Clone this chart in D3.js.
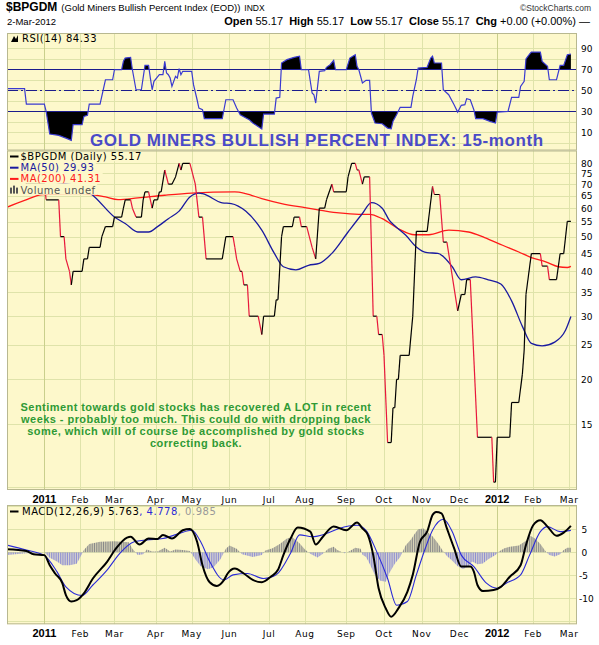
<!DOCTYPE html>
<html><head><meta charset="utf-8">
<script src="https://cdn.jsdelivr.net/npm/d3@7"></script>
<style>body{margin:0;background:#fff}svg{display:block}</style>
</head><body>
<script>
// ---------------- DATA ----------------
const firstDay = "2010-12-02", lastDay = "2012-03-02";
const holidays = ["2010-12-24","2011-01-17","2011-02-21","2011-04-22","2011-05-30","2011-07-04",
  "2011-09-05","2011-11-24","2011-12-26","2012-01-02","2012-01-16","2012-02-20"];
// session = trading-day number, 0 = 2 Dec 2010, 314 = 2 Mar 2012
const bpiSession = [0,10,11,21,22,29,30,32,33,35,36,37,42,43,45,46,52,53,55,59,60,64,65,66,69,70,72,75,76,77,79,81,82,84,85,86,88,90,92,94,96,97,98,102,105,107,109,111,120,122,126,127,128,130,131,132,134,135,140,142,143,149,150,151,153,154,159,160,163,164,167,170,172,174,177,178,181,182,189,190,192,194,195,196,198,199,202,204,206,207,209,210,212,214,215,216,217,218,219,224,226,228,234,237,238,241,243,245,251,253,255,256,258,262,270,271,272,273,280,281,285,287,288,289,292,297,298,301,302,306,308,310,312,314];
const bpiValue = [76.67,76.67,70,70,63.33,63.33,50,50,43.33,40,36.67,40,40,43.33,43.33,46.67,46.67,50,53.33,53.33,56.67,56.67,60,63.33,63.33,60,56.67,56.67,63.33,66.67,66.67,60,63.33,63.33,66.67,66.67,76.67,70,70,73.33,80,76.67,80,80,70,56.67,56.67,43.33,43.33,50,50,46.67,43.33,40,40,36.67,36.67,30,30,26.67,30,30,33.33,33.33,50,53.33,53.33,56.67,56.67,53.33,53.33,46.67,43.33,60,60,63.33,70,66.67,66.67,73.33,80,80,76.67,76.67,70,73.33,73.33,30,30,26.67,26.67,23.33,13.33,13.33,16.67,16.67,20,20,23.33,23.33,30,51.72,51.72,68.97,65.52,65.52,48.28,48.28,31.03,34.48,34.48,37.93,37.93,13.79,13.79,10.34,10.34,13.79,13.79,17.24,17.24,20.69,24.14,34.48,44.83,44.83,41.38,41.38,37.93,37.93,44.83,44.83,55.17,55.17];

const ma50Session = [0,21,42,49,60,66,73,79,84,90,96,102,107,109,120,125,133,142,149,154,161,168,174,181,190,198,203,209,213,216,222,228,234,240,248,253,261,268,275,281,287,292,298,305,311,314];
const ma50Value = [74,71.5,68.7,64.5,56.7,54.4,51.5,51.5,53.3,56.1,58.9,64.5,66.1,65.9,62.1,61.8,58.9,52.1,44.9,41.2,40.4,41.6,42.1,44.9,51.5,58.0,62.2,60.0,55.5,53.6,50.5,46.8,45.1,44.9,41.2,37.9,38.6,37.9,36.9,33.1,28.1,25.2,24.8,25.4,27.4,29.93];

const ma200Session = [0,10,20,42,55,62,73,88,103,127,133,142,153,166,175,185,196,202,209,218,227,235,246,257,266,276,285,292,300,307,312,314];
const ma200Value = [60.3,63.1,65.5,65.9,64.5,63.4,64.1,65.2,66.1,66.6,65.9,63.8,61.8,60.2,59.2,58.2,57.7,57.7,56.1,52.6,50.6,50.6,52.1,51.5,49.7,47.3,45.3,43.7,42.5,41.2,41.0,41.31];

const rsiSession = [0,10,11,21,22,24,29,33,36,37,42,43,45,46,52,55,59,60,64,65,66,69,70,72,75,77,79,80,81,82,85,87,88,89,90,91,92,94,95,96,97,98,103,104,106,107,109,110,120,122,126,128,130,135,137,142,143,149,150,152,153,156,160,163,164,168,170,171,172,174,177,178,180,182,183,189,191,194,195,196,198,200,202,203,205,209,212,214,215,217,219,225,226,228,229,234,236,237,238,242,243,246,249,251,253,255,256,258,260,261,265,269,272,273,279,281,285,286,288,289,291,292,297,298,301,302,306,308,310,312,314];
const rsiValue = [51.5,51.5,36.9,36.9,30,8.4,7.2,4.6,2.4,17.3,17.3,25.2,26.2,36.9,36.9,60,60,69.5,69.5,77.5,80.6,81.3,69.5,50.5,50.5,73.7,73.7,61.6,50.5,58.5,64.8,64.8,77.5,66.4,64.8,61.6,53.7,63.3,61.6,70.5,64.8,68,68,55.3,41,33.1,31.5,23,23,41,41,33.1,26.8,22.1,18.9,13.2,27.4,27.4,42.6,43.3,75.9,79.1,81.3,82.3,69.5,69.5,47.4,45.8,37.9,68,68.6,71.8,74.3,78.5,69.5,69.5,80.6,83.8,72.8,69.5,56.9,59.4,59.4,28.4,18.9,18.2,14.1,13.5,20.5,26.8,33.8,33.8,44.2,60,71.1,71.8,80.6,82.3,75.9,75.9,50.5,45.8,36.3,29.3,35.7,36.3,42,41,31.5,23,23,20.5,18.9,29.3,30,43.3,43.3,53.7,58.5,79.7,84.4,86.3,86.3,77.5,72.8,60,60,73.7,73.7,83.8,84.33];

const macdSession = [0,11,15,21,24,27,31,33,36,39,43,48,56,61,67,69,74,79,84,87,92,98,102,106,109,113,117,121,123,127,132,137,142,147,151,154,158,162,169,172,176,182,189,195,198,201,204,207,211,214,218,223,226,230,234,237,239,242,245,249,253,258,260,262,265,271,275,280,286,289,293,297,301,306,310,314];
const macdValue = [0.7,0.3,-0.4,-0.6,-2.8,-4.6,-6.7,-9.3,-10.7,-10.4,-8.9,-5.7,-2.0,0.9,3.2,3.4,1.7,3.0,2.9,3.8,3.0,4.8,5.1,2.3,-2.8,-6.5,-7.3,-6.0,-4.6,-3.5,-4.6,-6.0,-6.5,-5.3,-3.8,-0.6,3.0,5.4,4.5,1.7,3.4,5.6,4.8,6.5,5.2,3.8,-0.6,-7.8,-12.2,-14.0,-12.2,-8.6,-4.9,2.3,4.5,8.1,8.8,8.5,5.2,0.9,-3.1,-3.1,-4.2,-7.1,-8.4,-8.2,-7.5,-5.3,-2.8,1.6,5.9,7.0,5.6,3.6,4.3,5.763];
const signalSession = [0,11,21,28,33,42,48,56,63,71,78,87,96,103,108,113,121,126,134,143,150,158,163,170,178,185,195,200,206,212,217,223,228,233,237,243,248,253,260,267,273,278,286,291,297,301,308,314];
const signalValue = [1.6,0.5,-0.7,-4.2,-7.5,-9.4,-7.1,-3.8,-0.2,2.3,2.7,3.0,4.1,4.8,2.3,-2.0,-6.0,-4.9,-4.6,-5.7,-4.9,-0.2,3.8,3.4,4.1,5.2,5.9,4.8,0.1,-5.7,-11.5,-10.7,-4.9,0.9,4.8,7.2,4.5,-0.6,-3.1,-6.7,-7.8,-6.7,-4.9,-0.6,4.5,5.6,4.5,4.778];
const histSession = [0,11,21,24,28,31,35,39,42,43,46,52,60,68,70,73,76,78,81,84,88,91,94,98,102,105,108,112,115,119,122,124,128,131,137,142,144,148,152,156,159,163,166,169,173,176,179,182,184,188,191,194,197,198,200,202,205,208,211,213,216,219,222,225,227,229,232,234,237,240,243,245,248,251,254,257,259,262,265,268,272,274,277,280,285,289,291,294,297,300,302,305,308,310,312,314];
const histValue = [-0.6,-0.2,0,-1.2,-2.0,-2.8,-2.8,-2.5,-0.3,0.5,1.8,2.3,2.4,2.2,0.8,-0.6,-0.4,0.6,0.2,0.2,1.0,0.2,0.6,0.5,0.3,-1.5,-3.0,-3.7,-3.3,-1.5,0.8,1.5,0.8,-0.4,-1.0,-0.6,0.4,0.9,1.8,3.0,3.3,2.0,0.6,-0.3,-1.1,-0.3,0.8,1.2,0.5,-0.2,0.3,1.0,0.8,-0.5,-1.0,-2.5,-5.0,-6.2,-6.4,-4.5,-2.5,-1.0,1.5,2.8,4.0,5.0,5.2,4.5,3.5,2.0,0.2,-0.8,-1.8,-3.0,-3.6,-3.0,-2.0,-2.6,-2.4,-1.5,-0.6,0.2,0.9,1.2,1.5,2.5,3.7,3.0,1.8,0.2,-0.6,-0.9,-0.4,0.5,1.0,0.985];

const priceTicks = [15,20,25,30,35,40,45,50,55,60,65,70,75,80];
const priceGrid = [10,15,20,25,30,35,40,45,50,55,60,65,70,75,80];
const rsiTicks = [10,30,50,70,90];
const rsiGrid = [0,10,20,30,40,50,60,70,80,90];
const macdTicks = [-10,-5,0,5];
const annotation = ["Sentiment towards gold stocks has recovered A LOT in recent",
  "weeks - probably too much. This could do with dropping back",
  "some, which will of course be accomplished by gold stocks",
  "correcting back."];

// ---------------- LAYOUT ----------------
const W = 599, H = 645;
const PX0 = 7, PX1 = 577;
const R = {top: 33, bot: 150.5}, M = {top: 150.5, bot: 490}, Q = {top: 505, bot: 624.3};
const BG = "#fdf8cb", GRID = "#dfe3aa", YEARGRID = "#c9cf8c", BORDER = "#b8b890";
const AX = "'DejaVu Sans', Verdana, sans-serif", AR = "'Liberation Sans', Arial, sans-serif";

const parse = d3.utcParse("%Y-%m-%d"), fmt = d3.utcFormat("%Y-%m-%d");
const hol = new Set(holidays);
const days = d3.utcDays(parse(firstDay), d3.utcDay.offset(parse(lastDay), 1))
  .filter(d => d.getUTCDay() % 6 !== 0 && !hol.has(fmt(d)));
const monthStarts = [];
days.forEach((d, i) => { if (i > 0 && d.getUTCMonth() !== days[i-1].getUTCMonth()) monthStarts.push(i); });

const x = d3.scaleLinear().domain([0, days.length - 1]).range([6.6, 570.9]);
const yM = d3.scaleLog().domain([9.83, 86.9]).range([M.bot, M.top]);
const yR = d3.scaleLinear().domain([-7.2, 104.4]).range([R.bot, R.top]);
const yQ = d3.scaleLinear().domain([-15.65, 10.3]).range([Q.bot, Q.top]);

const svg = d3.select("body").append("svg").attr("width", W).attr("height", H);
svg.append("rect").attr("width", W).attr("height", H).attr("fill", "#fff");
const defs = svg.append("defs");
function clip(id, p) {
  defs.append("clipPath").attr("id", id).append("rect")
    .attr("x", PX0).attr("y", p.top).attr("width", PX1 - PX0).attr("height", p.bot - p.top);
}
clip("cR", R); clip("cM", M); clip("cQ", Q);

function panel(p, id, gridVals, yS) {
  svg.append("rect").attr("x", PX0).attr("y", p.top).attr("width", PX1 - PX0).attr("height", p.bot - p.top)
    .attr("fill", BG);
  const g = svg.append("g").attr("clip-path", `url(#${id})`);
  g.selectAll(null).data(gridVals).join("line")
    .attr("x1", PX0).attr("x2", PX1).attr("y1", d => Math.round(yS(d)) + 0.5).attr("y2", d => Math.round(yS(d)) + 0.5)
    .attr("stroke", GRID).attr("stroke-width", 1);
  g.selectAll(null).data(monthStarts).join("line")
    .attr("x1", d => Math.round(x(d)) + 0.5).attr("x2", d => Math.round(x(d)) + 0.5)
    .attr("y1", p.top).attr("y2", p.bot)
    .attr("stroke", d => days[d].getUTCMonth() === 0 ? YEARGRID : GRID).attr("stroke-width", 1);
  return g;
}
const gR = panel(R, "cR", rsiGrid, yR);
const gM = panel(M, "cM", priceGrid, yM);
const gQ = panel(Q, "cQ", d3.range(-15, 11, 5), yQ);

// ---------------- RSI ----------------
const rsiPts = rsiSession.map((s, i) => [x(s), yR(rsiValue[i])]);
defs.append("clipPath").attr("id", "cHi").append("rect").attr("x", PX0).attr("y", R.top).attr("width", PX1 - PX0).attr("height", yR(70) - R.top);
defs.append("clipPath").attr("id", "cLo").append("rect").attr("x", PX0).attr("y", yR(30)).attr("width", PX1 - PX0).attr("height", R.bot - yR(30));
gR.append("g").attr("clip-path", "url(#cHi)").append("path")
  .attr("d", d3.area().x(d => d[0]).y0(yR(70)).y1(d => d[1])(rsiPts)).attr("fill", "#000");
gR.append("g").attr("clip-path", "url(#cLo)").append("path")
  .attr("d", d3.area().x(d => d[0]).y0(yR(30)).y1(d => d[1])(rsiPts)).attr("fill", "#000");
[70, 30].forEach(v => gR.append("line").attr("x1", PX0).attr("x2", PX1)
  .attr("y1", Math.round(yR(v)) + 0.5).attr("y2", Math.round(yR(v)) + 0.5).attr("stroke", "#1c1c8c").attr("stroke-width", 1.2));
gR.append("line").attr("x1", PX0).attr("x2", PX1).attr("y1", Math.round(yR(50)) + 0.5).attr("y2", Math.round(yR(50)) + 0.5)
  .attr("stroke", "#1c1c8c").attr("stroke-width", 1.2).attr("stroke-dasharray", "11,3,2,3");
gR.append("path").attr("d", d3.line()(rsiPts)).attr("fill", "none").attr("stroke", "#3a3ad0").attr("stroke-width", 1.2);

svg.append("text").attr("x", 90).attr("y", 145.5).attr("font-family", AR).attr("font-weight", "bold")
  .attr("font-size", 17).attr("letter-spacing", 0.6).attr("fill", "#4a4ac8").text("GOLD MINERS BULLISH PERCENT INDEX: 15-month");

// ---------------- MAIN ----------------
gM.append("path").attr("d", d3.line().curve(d3.curveMonotoneX)(ma200Session.map((s, i) => [x(s), yM(ma200Value[i])])))
  .attr("fill", "none").attr("stroke", "#ff1a1a").attr("stroke-width", 1.3);
gM.append("path").attr("d", d3.line().curve(d3.curveMonotoneX)(ma50Session.map((s, i) => [x(s), yM(ma50Value[i])])))
  .attr("fill", "none").attr("stroke", "#1a1aa0").attr("stroke-width", 1.3);
const segs = d3.pairs(bpiSession.map((s, i) => [x(s), yM(bpiValue[i]), bpiValue[i]]));
gM.selectAll(null).data(segs).join("path")
  .attr("d", d => d3.line()([[d[0][0], d[0][1]], [d[1][0], d[1][1]]]))
  .attr("stroke", d => d[1][2] < d[0][2] ? "#e8183c" : "#000").attr("stroke-width", 1.2).attr("fill", "none");

const ann = svg.append("text").attr("font-family", AR).attr("font-weight", "bold").attr("font-size", 11)
  .attr("letter-spacing", 0.45).attr("fill", "#2f9a35").attr("text-anchor", "middle");
annotation.forEach((t, i) => ann.append("tspan").attr("x", 196).attr("y", 410.5 + i * 12).text(t));

const leg = svg.append("g").attr("font-family", AX).attr("font-size", 10);
const legRows = [
  {t: "$BPGDM (Daily) 55.17", c: "#000", k: "line"},
  {t: "MA(50) 29.93", c: "#1a1aa0", k: "line"},
  {t: "MA(200) 41.31", c: "#ff1a1a", k: "line"},
  {t: "Volume undef", c: "#555", k: "vol"}];
legRows.forEach((r, i) => {
  const yb = 160 + i * 11.2;
  const bg = leg.append("rect").attr("fill", BG);
  const tx = leg.append("text").attr("x", 20.5).attr("y", yb).attr("fill", r.c).attr("letter-spacing", 0.5).text(r.t);
  const bb = tx.node().getBBox();
  bg.attr("x", PX0 + 0.5).attr("y", yb - 10).attr("width", bb.x + bb.width - PX0 + 1).attr("height", 11.2);
  if (r.k === "line") leg.append("line").attr("x1", 10).attr("x2", 18.5).attr("y1", yb - 3.5).attr("y2", yb - 3.5)
    .attr("stroke", r.c).attr("stroke-width", 2);
  else [0, 1, 2].forEach(j => leg.append("rect").attr("x", 10 + j * 3).attr("y", yb - 7 + (j === 1 ? -1 : 1)).attr("width", 2)
    .attr("height", 7 - (j === 1 ? -1 : 1)).attr("fill", "#555"));
});

// ---------------- MACD ----------------
[["hpP", "#8a8a8a"], ["hpN", "#8f8fd2"]].forEach(([id, c]) => defs.append("pattern").attr("id", id)
  .attr("patternUnits", "userSpaceOnUse").attr("x", x(0) - 0.6).attr("width", x(1) - x(0)).attr("height", 8)
  .append("rect").attr("width", 1.2).attr("height", 8).attr("fill", c));
defs.append("clipPath").attr("id", "cPos").append("rect").attr("x", PX0).attr("y", Q.top).attr("width", PX1 - PX0).attr("height", yQ(0) - Q.top);
defs.append("clipPath").attr("id", "cNeg").append("rect").attr("x", PX0).attr("y", yQ(0)).attr("width", PX1 - PX0).attr("height", Q.bot - yQ(0));
const histPath = d3.area().x(d => d[0]).y0(yQ(0)).y1(d => d[1])(histSession.map((s, i) => [x(s), yQ(histValue[i])]));
gQ.append("g").attr("clip-path", "url(#cPos)").append("path").attr("d", histPath).attr("fill", "url(#hpP)");
gQ.append("g").attr("clip-path", "url(#cNeg)").append("path").attr("d", histPath).attr("fill", "url(#hpN)");
gQ.append("path").attr("d", d3.line().curve(d3.curveMonotoneX)(signalSession.map((s, i) => [x(s), yQ(signalValue[i])])))
  .attr("fill", "none").attr("stroke", "#2a2ad8").attr("stroke-width", 1.1);
gQ.append("path").attr("d", d3.line().curve(d3.curveMonotoneX)(macdSession.map((s, i) => [x(s), yQ(macdValue[i])])))
  .attr("fill", "none").attr("stroke", "#000").attr("stroke-width", 2);

[R, M, Q].forEach(p => svg.append("rect").attr("x", PX0 + 0.5).attr("y", p.top + 0.5).attr("width", PX1 - PX0 - 1)
  .attr("height", p.bot - p.top - 1).attr("fill", "none").attr("stroke", BORDER));

const rl = svg.append("g").attr("font-family", AX).attr("font-size", 10);
rl.append("path").attr("d", "M11,42 L14,36 L16,39 L18,35 L18,42 Z").attr("fill", "#000");
rl.append("text").attr("x", 22).attr("y", 42).attr("letter-spacing", 0.5).text("RSI(14) 84.33");
const ql = svg.append("g").attr("font-family", AX).attr("font-size", 10);
ql.append("line").attr("x1", 10).attr("x2", 18.5).attr("y1", 511.5).attr("y2", 511.5).attr("stroke", "#000").attr("stroke-width", 2);
const qt = ql.append("text").attr("x", 22).attr("y", 515).attr("letter-spacing", 0.5);
qt.append("tspan").attr("fill", "#000").text("MACD(12,26,9) 5.763");
qt.append("tspan").attr("fill", "#2a2ad8").text(", 4.778");
qt.append("tspan").attr("fill", "#999").text(", 0.985");

// ---------------- AXES ----------------
const axR = svg.append("g").attr("font-family", AX).attr("font-size", 9).attr("fill", "#000");
axR.selectAll(null).data(rsiTicks).join("text").attr("x", 581).attr("y", d => yR(d) + 3.5).text(d => d);
axR.selectAll(null).data(priceTicks).join("text").attr("x", 581).attr("y", d => yM(d) + 3.5).text(d => d);
axR.selectAll(null).data(macdTicks).join("text").attr("x", d => d < 0 ? 579 : 581.5).attr("y", d => yQ(d) + 3.5).text(d => d);

const monthFmt = d3.utcFormat("%b"), yearFmt = d3.utcFormat("%Y");
[502.5, 636.5].forEach(yb => {
  svg.append("g").selectAll(null).data(monthStarts).join("text")
    .attr("x", d => x(d)).attr("y", yb).attr("text-anchor", "middle")
    .attr("font-family", d => days[d].getUTCMonth() === 0 ? AR : AX)
    .attr("font-weight", d => days[d].getUTCMonth() === 0 ? "bold" : "normal")
    .attr("font-size", d => days[d].getUTCMonth() === 0 ? 11 : 9)
    .attr("letter-spacing", d => days[d].getUTCMonth() === 0 ? 0 : 0.6)
    .text(d => days[d].getUTCMonth() === 0 ? yearFmt(days[d]) : monthFmt(days[d]));
});

// ---------------- HEADER ----------------
const h1 = svg.append("text").attr("x", 6).attr("y", 11).attr("font-family", AR);
h1.append("tspan").attr("font-weight", "bold").attr("font-size", 12).text("$BPGDM");
h1.append("tspan").attr("font-size", 9.5).attr("dx", 4).text("(Gold Miners Bullish Percent Index (EOD))");
h1.append("tspan").attr("font-size", 8.5).attr("dx", 4).text("INDX");
svg.append("text").attr("x", 591).attr("y", 11).attr("text-anchor", "end").attr("font-family", AR)
  .attr("font-size", 8.5).attr("fill", "#333").text("\u00a9StockCharts.com");
svg.append("text").attr("x", 7).attr("y", 25).attr("font-family", AR).attr("font-size", 9.5).text("2-Mar-2012");
const h2 = svg.append("text").attr("x", 590).attr("y", 25).attr("text-anchor", "end").attr("font-family", AR).attr("font-size", 11);
[["Open", " 55.17  "], ["High", " 55.17  "], ["Low", " 55.17  "], ["Close", " 55.17  "], ["Chg", " +0.00 (+0.00%) \u2014"]]
  .forEach(([a, b]) => { h2.append("tspan").attr("font-weight", "bold").text(a); h2.append("tspan").attr("xml:space", "preserve").text(b); });
</script>
</body></html>
